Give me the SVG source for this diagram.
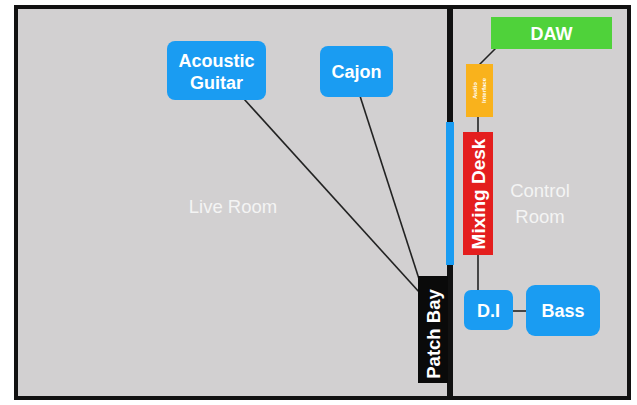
<svg xmlns="http://www.w3.org/2000/svg" width="637" height="405" viewBox="0 0 637 405">
<style>
.room{fill:#d2d0d1;stroke:#111;stroke-width:4}
.blue{fill:#1a9cf2}
.t{font-family:"Liberation Sans",Arial,sans-serif;fill:#fff;font-weight:bold;text-anchor:middle}
.lbl{font-family:"Liberation Sans",Arial,sans-serif;fill:#f4f4f4;font-size:18.5px;text-anchor:middle}
.wire{stroke:#222;stroke-width:1.6;fill:none}
</style>
<rect x="0" y="0" width="637" height="405" fill="#ffffff"/>
<g id="live-room">
<rect class="room" x="16" y="7" width="433" height="391"/>
<text class="lbl" x="233" y="213">Live Room</text>
</g>
<g id="control-room">
<rect class="room" x="451" y="7" width="178" height="391"/>
<text class="lbl" x="540" y="197">Control</text>
<text class="lbl" x="540" y="223">Room</text>
</g>
<g id="connectors">
<line class="wire" x1="244" y1="99" x2="420" y2="293"/>
<line class="wire" x1="360" y1="96" x2="420" y2="282"/>
<line class="wire" x1="497" y1="47" x2="477" y2="67"/>
<line class="wire" x1="478" y1="116" x2="478" y2="134"/>
<line class="wire" x1="478" y1="254" x2="478" y2="291"/>
<line class="wire" x1="512" y1="311" x2="527" y2="311"/>
</g>
<g id="wall-panel">
<rect x="446" y="122" width="8" height="143" fill="#1a9cf2"/>
</g>
<g id="patch-bay">
<rect x="418" y="276" width="30" height="107" fill="#0a0a0a"/>
<text class="t" font-size="18.5" transform="translate(439.5,334) rotate(-90)">Patch Bay</text>
</g>
<g id="acoustic-guitar">
<rect class="blue" x="167" y="41" width="99" height="59" rx="8"/>
<text class="t" font-size="18" x="216.5" y="67">Acoustic</text>
<text class="t" font-size="18" x="216.5" y="89">Guitar</text>
</g>
<g id="cajon">
<rect class="blue" x="320" y="46" width="73" height="51" rx="8"/>
<text class="t" font-size="18" x="356.5" y="78">Cajon</text>
</g>
<g id="daw">
<rect x="491" y="17" width="121" height="32" fill="#4fd23a"/>
<text class="t" font-size="18" x="551.5" y="40">DAW</text>
</g>
<g id="audio-interface">
<rect x="466" y="64" width="27" height="53" fill="#f9b21c"/>
<text class="t" font-size="6" fill="#ffe070" transform="translate(477,90.5) rotate(-90)">Audio</text>
<text class="t" font-size="6" fill="#ffe070" transform="translate(486,90.5) rotate(-90)">Interface</text>
</g>
<g id="mixing-desk">
<rect x="463" y="132" width="30" height="123" fill="#e41e1e"/>
<text class="t" font-size="19" transform="translate(485,194) rotate(-90)">Mixing Desk</text>
</g>
<g id="di">
<rect class="blue" x="464" y="290" width="49" height="40" rx="7"/>
<text class="t" font-size="18" x="488.5" y="316.5">D.I</text>
</g>
<g id="bass">
<rect class="blue" x="526" y="285" width="74" height="51" rx="9"/>
<text class="t" font-size="18" x="563" y="317">Bass</text>
</g>
</svg>
